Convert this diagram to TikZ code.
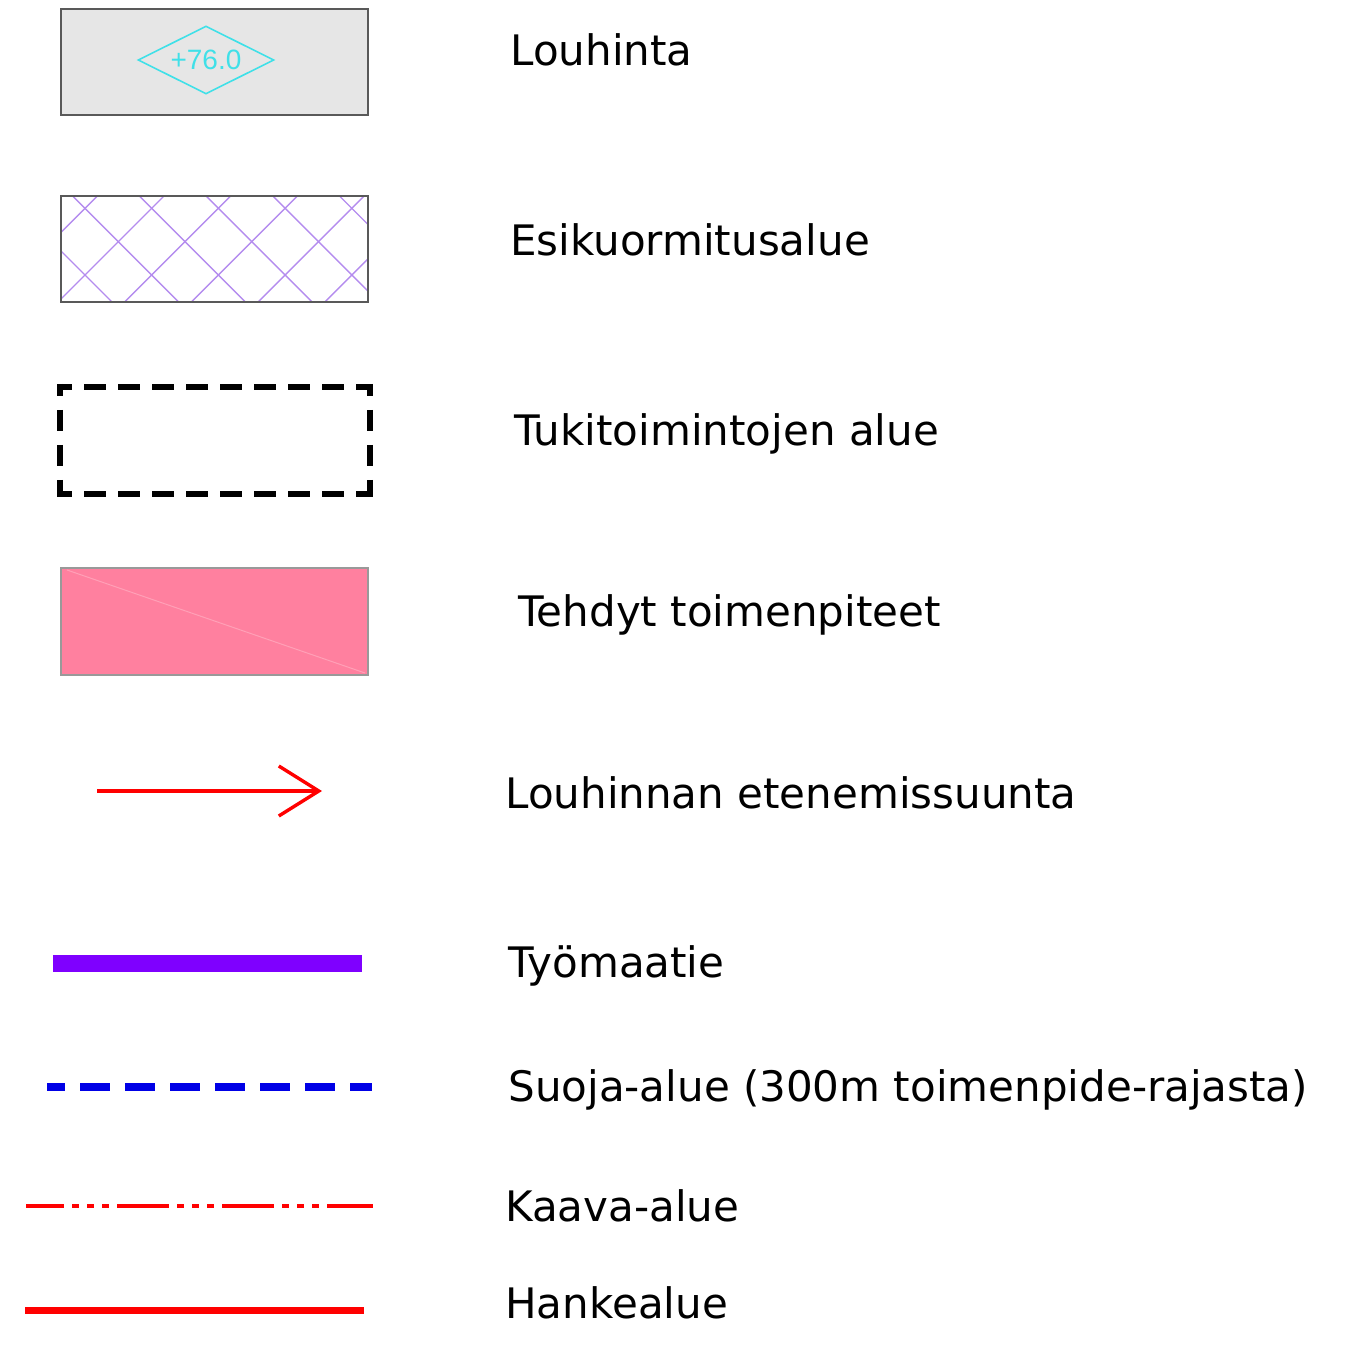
\documentclass[tikz,border=0pt]{standalone}
\usepackage{fontspec}
\setmainfont{DejaVu Sans}
\newfontfamily\korkofont{Liberation Sans}
\usetikzlibrary{shapes.geometric, arrows.meta}

\definecolor{louhharmaa}{HTML}{E6E6E6}
\definecolor{korko}{HTML}{40E0E8}
\definecolor{esikuorma}{HTML}{B48CEE}
\definecolor{tehty}{HTML}{FF809F}
\definecolor{tyomaa}{HTML}{7F00FF}
\definecolor{suoja}{HTML}{0000E6}
\definecolor{punainen}{HTML}{FF0000}

\tikzset{
  selite/.style={anchor=base west, inner sep=0pt, font=\fontsize{21}{25}\selectfont},
  ruutu/.style={draw=black!65, line width=0.8pt},
  tuki/.style={line width=3.3pt, dash pattern=on 11pt off 6pt, dash phase=3.5pt},
  tukipysty/.style={line width=3.3pt, dash pattern=on 10.5pt off 7pt, dash phase=4.5pt},
}

\begin{document}
\begin{tikzpicture}[x=0.5pt, y=-0.5pt]
    \useasboundingbox (0,0) rectangle (1351,1348);

    % Louhinta
    \draw[ruutu, fill=louhharmaa] (61,9) rectangle (368,115);
    \node[diamond, aspect=2, draw=korko, line width=0.8pt, minimum width=68pt, minimum height=34pt, inner sep=0pt, text=korko, font=\korkofont\fontsize{14}{16}\selectfont] (korko) at (206,60) {+76.0};
    \node[selite] (louhinta) at (510,66) {Louhinta};

    % Esikuormitusalue
    \begin{scope}
        \clip (61,196) rectangle (368,302);
        \foreach \k in {-3,...,7} {
            \draw[esikuorma, line width=0.7pt] (85+\k*66.7,275) ++(-200,200) -- ++(400,-400);
            \draw[esikuorma, line width=0.7pt] (85+\k*66.7,275) ++(-200,-200) -- ++(400,400);
        }
    \end{scope}
    \draw[ruutu] (61,196) rectangle (368,302);
    \node[selite] (esikuorma) at (510,256) {Esikuormitusalue};

    % Tukitoimintojen alue
    \draw[tuki] (57,387) -- (373,387);
    \draw[tuki] (57,494) -- (373,494);
    \draw[tukipysty] (60,384) -- (60,497);
    \draw[tukipysty] (370,384) -- (370,497);
    \node[selite] (tuki) at (514,446) {Tukitoimintojen alue};

    % Tehdyt toimenpiteet
    \draw[draw=black!40, line width=0.8pt, fill=tehty] (61,568) rectangle (368,675);
    \draw[tehty!75!white, line width=0.5pt] (67,570) -- (365,673);
    \node[selite] (tehty) at (518,626) {Tehdyt toimenpiteet};

    % Louhinnan etenemissuunta
    \coordinate (alku) at (97,791);
    \coordinate (karki) at (322,791);
    \draw[punainen, line width=1.7pt, -{Straight Barb[length=20pt, width=25pt]}] (alku) -- (karki);
    \node[selite] (suunta) at (505,808) {Louhinnan etenemissuunta};

    % Työmaatie
    \fill[tyomaa] (53,955) rectangle (362,972);
    \node[selite] (tie) at (508,977) {Työmaatie};

    % Suoja-alue
    \draw[suoja, line width=4pt, dash pattern=on 15pt off 7.5pt, dash phase=6pt] (47,1087) -- (372,1087);
    \node[selite] (suoja) at (508,1101) {Suoja-alue (300m toimenpide-rajasta)};

    % Kaava-alue
    \draw[punainen, line width=2pt, dash pattern=on 26pt off 4pt on 3.5pt off 4pt on 3.5pt off 4pt on 3.5pt off 4pt, dash phase=7pt] (26,1206) -- (373,1206);
    \node[selite] (kaava) at (505,1221) {Kaava-alue};

    % Hankealue
    \draw[punainen, line width=3.5pt] (25,1310) -- (364,1310);
    \node[selite] (hanke) at (505,1318) {Hankealue};
\end{tikzpicture}
\end{document}
